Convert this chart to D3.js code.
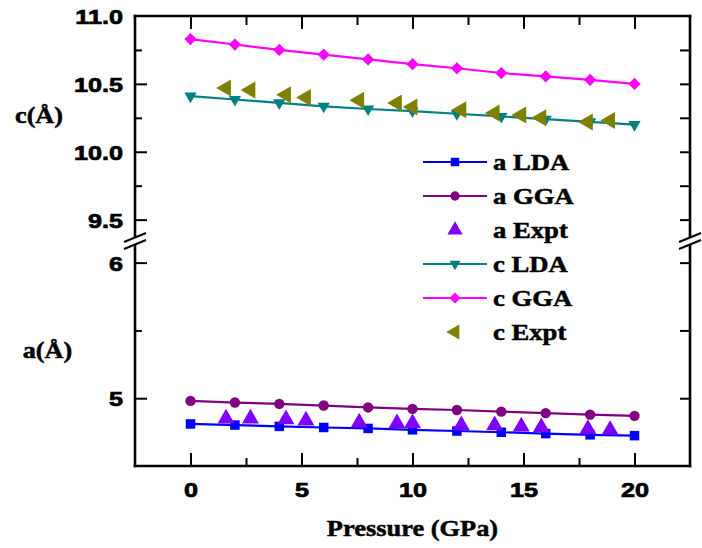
<!DOCTYPE html>
<html>
<head>
<meta charset="utf-8">
<script src="https://cdn.jsdelivr.net/npm/d3@7"></script>
<style>
  html, body { margin: 0; padding: 0; background: #fff; }
  svg { display: block; }
</style>
</head>
<body>
<svg id="chart" width="702" height="548"></svg>
<script>
// Lattice parameters a and c versus pressure: LDA / GGA calculations and experiment.
const pressureCalc = [0, 2, 4, 6, 8, 10, 12, 14, 16, 18, 20];
const aLDA = [4.810, 4.802, 4.792, 4.784, 4.777, 4.767, 4.758, 4.749, 4.739, 4.730, 4.724];
const aGGA = [4.980, 4.968, 4.958, 4.946, 4.932, 4.921, 4.913, 4.901, 4.890, 4.879, 4.870];
const cLDA = [10.410, 10.385, 10.360, 10.335, 10.315, 10.300, 10.280, 10.260, 10.240, 10.220, 10.200];
const cGGA = [10.830, 10.790, 10.750, 10.715, 10.680, 10.645, 10.615, 10.580, 10.555, 10.530, 10.500];

const pressureExpt = [1.6, 2.7, 4.3, 5.2, 7.6, 9.3, 10.0, 12.2, 13.7, 14.9, 15.8, 17.9, 18.9];
const aExpt = [4.850, 4.850, 4.845, 4.835, 4.820, 4.815, 4.815, 4.800, 4.800, 4.790, 4.785, 4.773, 4.766];
const cExpt = [10.470, 10.455, 10.420, 10.400, 10.380, 10.360, 10.330, 10.310, 10.285, 10.270, 10.250, 10.220, 10.230];

const xTicks = [0, 5, 10, 15, 20];
const xMinorTicks = [2.5, 7.5, 12.5, 17.5];
const cTicks = [9.5, 10.0, 10.5, 11.0];
const cMinorTicks = [9.75, 10.25, 10.75];
const aTicks = [5, 6];
const aMinorTicks = [5.5];

const xTitle = "Pressure (GPa)";
const cTitle = "c(Å)";
const aTitle = "a(Å)";

// ---- layout ----
const svg = d3.select("#chart");
const L = 135, R = 690, T = 16, B = 466;
const breakTop = 240, breakBot = 245;

const x = d3.scaleLinear().domain([-2.5, 22.5]).range([L, R]);
const yC = d3.scaleLinear().domain([9.35, 11.0]).range([breakTop, T]);
const yA = d3.scaleLinear().domain([4.5, 6.13]).range([B, breakBot]);

const tickFont = "'Liberation Sans', Arial, sans-serif";
const serifFont = "'Liberation Serif', 'Times New Roman', serif";
const tickSX = 1.2;

function styleAxis(g, sw) {
  g.select(".domain").remove();
  g.selectAll(".tick line").attr("stroke", "#000").attr("stroke-width", sw || 2);
  g.attr("font-family", tickFont).attr("font-size", 21).attr("font-weight", "bold");
  g.selectAll(".tick text").attr("fill", "#000")
    .attr("stroke", "#000").attr("stroke-width", 0.7);
}

// horizontal stretch of axis labels about their anchor point
function stretchText(sel, sx) {
  sel.each(function () {
    const t = d3.select(this);
    const tx = +t.attr("x") || 0;
    const ty = +t.attr("y") || 0;
    t.attr("x", 0).attr("y", 0)
     .attr("transform", `translate(${tx},${ty}) scale(${sx},1)`);
  });
}

// ---- bottom axis ----
const gxb = svg.append("g").attr("transform", `translate(0,${B})`)
  .call(d3.axisBottom(x).tickValues(xTicks).tickFormat(d3.format("d"))
        .tickSizeInner(-13).tickSizeOuter(0).tickPadding(16));
styleAxis(gxb);
stretchText(gxb.selectAll(".tick text"), tickSX);
const gxbm = svg.append("g").attr("transform", `translate(0,${B})`)
  .call(d3.axisBottom(x).tickValues(xMinorTicks)
        .tickFormat("").tickSizeInner(-8).tickSizeOuter(0));
styleAxis(gxbm);

// ---- top axis ----
const gxt = svg.append("g").attr("transform", `translate(0,${T})`)
  .call(d3.axisTop(x).tickValues(xTicks).tickFormat("").tickSizeInner(-13).tickSizeOuter(0));
styleAxis(gxt);
const gxtm = svg.append("g").attr("transform", `translate(0,${T})`)
  .call(d3.axisTop(x).tickValues(xMinorTicks)
        .tickFormat("").tickSizeInner(-9).tickSizeOuter(0));
styleAxis(gxtm);

// ---- left axes (upper: c, lower: a) ----
function leftAxis(scale, major, minor, fmt) {
  const g = svg.append("g").attr("transform", `translate(${L},0)`)
    .call(d3.axisLeft(scale).tickValues(major).tickFormat(fmt)
          .tickSizeInner(-12).tickSizeOuter(0).tickPadding(12));
  styleAxis(g);
  g.selectAll(".tick text").attr("dy", "0.36em");
  stretchText(g.selectAll(".tick text"), tickSX);
  const gm = svg.append("g").attr("transform", `translate(${L},0)`)
    .call(d3.axisLeft(scale).tickValues(minor).tickFormat("")
          .tickSizeInner(-7).tickSizeOuter(0));
  styleAxis(gm);
}
leftAxis(yC, cTicks.filter(v => v < 11), cMinorTicks, d3.format(".1f"));
leftAxis(yA, aTicks, aMinorTicks, d3.format("d"));
// label for the top tick (sits on the frame corner)
{
  const g = svg.append("g").attr("transform", `translate(${L},0)`)
    .call(d3.axisLeft(yC).tickValues([11.0]).tickFormat(d3.format(".1f"))
          .tickSizeInner(0).tickSizeOuter(0).tickPadding(12));
  styleAxis(g);
  g.selectAll(".tick text").attr("dy", "0.36em");
  stretchText(g.selectAll(".tick text"), tickSX);
}

// ---- right axes ----
function rightAxis(scale, vals) {
  const g = svg.append("g").attr("transform", `translate(${R},0)`)
    .call(d3.axisRight(scale).tickValues(vals).tickFormat("")
          .tickSizeInner(-10).tickSizeOuter(0));
  styleAxis(g);
}
rightAxis(yC, cTicks.concat(cMinorTicks).filter(v => v < 11));
rightAxis(yA, aTicks.concat(aMinorTicks));

// ---- frame ----
const frame = svg.append("g").attr("stroke", "#000").attr("stroke-width", 2.6)
  .attr("fill", "none").attr("stroke-linecap", "square");
frame.append("line").attr("x1", L).attr("x2", R).attr("y1", T).attr("y2", T);
frame.append("line").attr("x1", L).attr("x2", R).attr("y1", B).attr("y2", B);
frame.append("line").attr("x1", L).attr("x2", L).attr("y1", T).attr("y2", B);
frame.append("line").attr("x1", R).attr("x2", R).attr("y1", T).attr("y2", B);

// axis break marks
function breakMark(cx) {
  const hw = 11, tilt = 4.5, yU = 237.5, yD = 244.5;
  svg.append("polygon")
    .attr("points", [
      [cx - hw, yU + tilt], [cx + hw, yU - tilt],
      [cx + hw, yD - tilt], [cx - hw, yD + tilt]].map(p => p.join(",")).join(" "))
    .attr("fill", "#fff");
  [yU, yD].forEach(yy => {
    svg.append("line")
      .attr("x1", cx - hw).attr("y1", yy + tilt)
      .attr("x2", cx + hw).attr("y2", yy - tilt)
      .attr("stroke", "#000").attr("stroke-width", 2);
  });
}
breakMark(L);
breakMark(R);

// ---- series ----
const sym = {
  square:   { type: d3.symbolSquare, size: 90, rot: 0 },
  circle:   { type: d3.symbolCircle, size: 85, rot: 0 },
  triUp:    { type: d3.symbolTriangle, size: 125, rot: 0 },
  triDown:  { type: d3.symbolTriangle, size: 65, rot: 180 },
  diamond:  { type: d3.symbolSquare, size: 75, rot: 45 },
  triLeft:  { type: d3.symbolTriangle, size: 125, rot: -90 }
};

const series = [
  { name: "a LDA",  xs: pressureCalc, ys: aLDA,  y: yA, color: "#0000FF", line: true,  marker: "square" },
  { name: "a GGA",  xs: pressureCalc, ys: aGGA,  y: yA, color: "#800080", line: true,  marker: "circle" },
  { name: "a Expt", xs: pressureExpt, ys: aExpt, y: yA, color: "#8000FF", line: false, marker: "triUp" },
  { name: "c LDA",  xs: pressureCalc, ys: cLDA,  y: yC, color: "#008080", line: true,  marker: "triDown" },
  { name: "c GGA",  xs: pressureCalc, ys: cGGA,  y: yC, color: "#FF00FF", line: true,  marker: "diamond" },
  { name: "c Expt", xs: pressureExpt, ys: cExpt, y: yC, color: "#808000", line: false, marker: "triLeft" }
];

function marker(g, s, px, py, k) {
  const m = sym[s.marker];
  g.append("path")
    .attr("d", d3.symbol().type(m.type).size(m.size * (k || 1))())
    .attr("transform", `translate(${px},${py}) rotate(${m.rot})`)
    .attr("fill", s.color);
}

const plot = svg.append("g");
series.filter(s => s.line).forEach(s => {
  const pts = s.xs.map((v, i) => [v, s.ys[i]]);
  plot.append("path")
    .datum(pts)
    .attr("d", d3.line().x(d => x(d[0])).y(d => s.y(d[1])))
    .attr("fill", "none").attr("stroke", s.color).attr("stroke-width", 2.2);
});
series.forEach(s => {
  s.xs.forEach((v, i) => marker(plot, s, x(v), s.y(s.ys[i])));
});

// ---- legend ----
const legend = svg.append("g");
const legX0 = 423, legX1 = 487, legTextX = 493, legBase0 = 169.5, legStep = 34;
series.forEach((s, i) => {
  const base = legBase0 + i * legStep;
  const cy = base - 7.5;
  if (s.line) {
    legend.append("line").attr("x1", legX0).attr("x2", legX1)
      .attr("y1", cy).attr("y2", cy)
      .attr("stroke", s.color).attr("stroke-width", 2.2);
  }
  marker(legend, s, (legX0 + legX1) / 2, cy, 0.8);
  legend.append("text")
    .attr("transform", `translate(${legTextX},${base}) scale(1.16,1)`)
    .attr("font-family", serifFont).attr("font-weight", "bold").attr("font-size", 23)
    .attr("fill", "#000").attr("stroke", "#000").attr("stroke-width", 0.5)
    .text(s.name);
});

// ---- axis titles ----
function title(txt, tx, ty, sx, fs) {
  svg.append("text")
    .attr("transform", `translate(${tx},${ty}) scale(${sx},1)`)
    .attr("text-anchor", "middle")
    .attr("font-family", serifFont).attr("font-weight", "bold").attr("font-size", fs)
    .attr("fill", "#000").attr("stroke", "#000").attr("stroke-width", 0.5)
    .text(txt);
}
title(xTitle, (L + R) / 2, 536, 1.1, 24);
title(cTitle, 39, 123, 1.14, 23);
title(aTitle, 47.5, 358, 1.14, 23);
</script>
</body>
</html>
